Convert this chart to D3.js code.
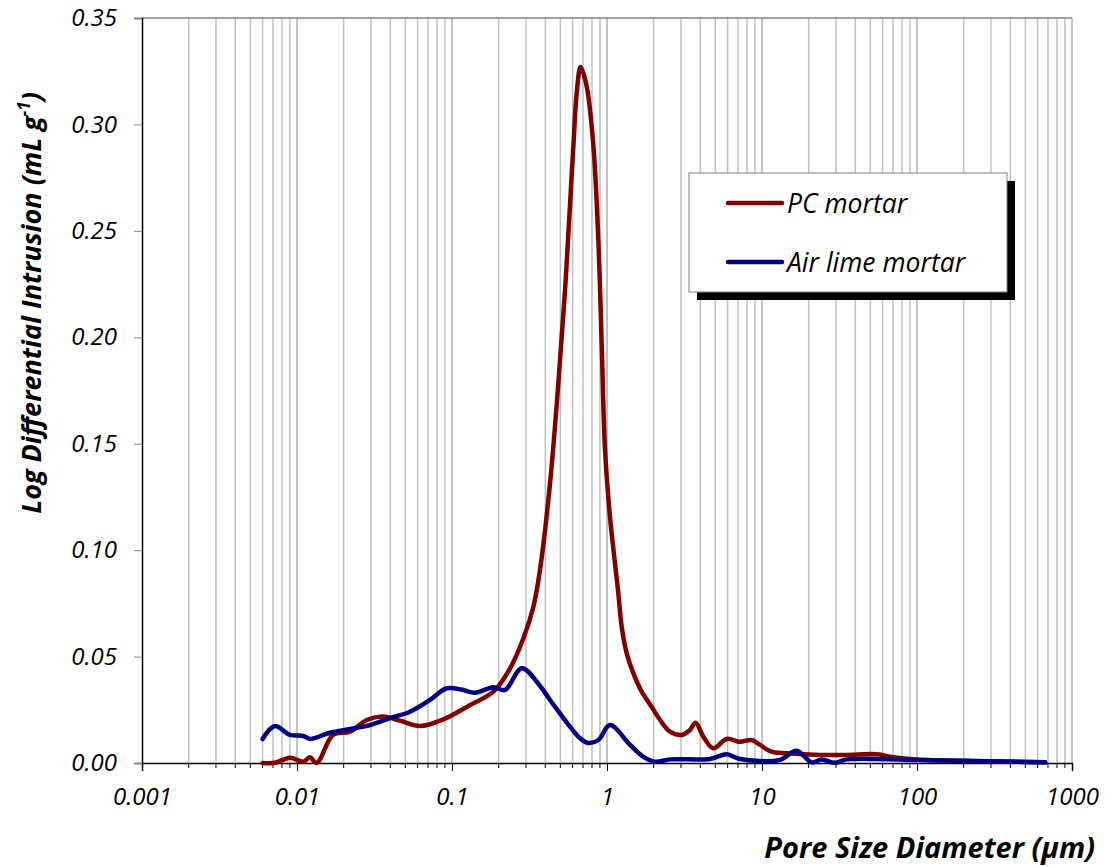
<!DOCTYPE html>
<html>
<head>
<meta charset="utf-8">
<script src="https://cdn.jsdelivr.net/npm/d3@7"></script>
<style>
  body { margin: 0; background: #fff; }
  text { font-family: "Open Sans", "Noto Sans", sans-serif; fill: #000; }
</style>
</head>
<body>
<svg id="chart"></svg>
<script>
// Page size
const width = 1105, height = 866;
const margin = { top: 18, right: 33, bottom: 103, left: 142 };

// Pore size diameter (µm) and log differential intrusion (mL/g)
const pcDiameter = [0.006, 0.0072, 0.009, 0.011, 0.0121, 0.0134, 0.0171, 0.022, 0.0282, 0.036,
  0.0462, 0.0622, 0.0879, 0.1306, 0.185, 0.237, 0.289, 0.335, 0.37, 0.429, 0.485, 0.536,
  0.577, 0.607, 0.638, 0.676, 0.739, 0.817, 0.88, 0.925, 0.97, 1.045, 1.12, 1.183, 1.244,
  1.34, 1.48, 1.675, 1.94, 2.2, 2.55, 3.03, 3.43, 3.73, 4.18, 4.85, 5.92, 7.2, 8.58, 9.7,
  11.5, 14.4, 23.7, 35, 55, 70, 100, 200, 400, 670];
const pcIntrusion = [0.0, 0.0001, 0.0025, 0.0006, 0.0027, 0.0, 0.0132, 0.0147, 0.0202, 0.0218,
  0.0199, 0.0174, 0.0205, 0.0272, 0.0335, 0.0445, 0.0586, 0.0734, 0.091, 0.1314, 0.178, 0.222,
  0.262, 0.29, 0.315, 0.327, 0.318, 0.29, 0.245, 0.196, 0.148, 0.1157, 0.0954, 0.0797, 0.064,
  0.0515, 0.0421, 0.0335, 0.0264, 0.0202, 0.0147, 0.0132, 0.0155, 0.0189, 0.0124, 0.0069, 0.0113, 0.01, 0.0108, 0.0085,
  0.0053, 0.0046, 0.0038, 0.0038, 0.0041, 0.0027, 0.0017, 0.001, 0.0006, 0.0003];

const limeDiameter = [0.006, 0.0072, 0.009, 0.011, 0.0121, 0.0163, 0.022, 0.0296, 0.0398, 0.0536,
  0.072, 0.0925, 0.115, 0.1406, 0.185, 0.22, 0.282, 0.37, 0.429, 0.497, 0.577, 0.67, 0.754, 0.88,
  1.045, 1.41, 1.71, 2.04, 2.55, 4.62, 5.92, 7.2, 13, 16.7, 20.9, 24.3, 29.5, 35.2, 99.5, 670];
const limeIntrusion = [0.0113, 0.0174, 0.0132, 0.0127, 0.0113, 0.0142, 0.016, 0.0178, 0.0211, 0.0241,
  0.0296, 0.0351, 0.0345, 0.033, 0.0356, 0.0343, 0.0445, 0.0362, 0.0296, 0.0233, 0.0171, 0.0116, 0.0094, 0.0108,
  0.0178, 0.0085, 0.003, 0.0006, 0.0017, 0.0019, 0.0041, 0.0019, 0.0014, 0.0058, 0.0003, 0.0017, 0.0001, 0.0017, 0.0014, 0.0003];

const seriesNames = ["PC mortar", "Air lime mortar"];
const seriesColors = ["#800000", "#000080"];

const xTickValues = [0.001, 0.01, 0.1, 1, 10, 100, 1000];
const xTickLabels = ["0.001", "0.01", "0.1", "1", "10", "100", "1000"];
const yTickValues = [0, 0.05, 0.10, 0.15, 0.20, 0.25, 0.30, 0.35];

const svg = d3.select("#chart").attr("width", width).attr("height", height);

const x = d3.scaleLog()
  .domain([0.001, 1000])
  .range([margin.left, width - margin.right]);

const y = d3.scaleLinear()
  .domain([0, 0.35])
  .range([height - margin.bottom, margin.top]);

// minor + major positions for the log grid
const minorValues = [];
for (let e = -3; e < 3; e++) {
  for (let k = 2; k <= 9; k++) minorValues.push(k * Math.pow(10, e));
}

// vertical grid lines
svg.append("g")
  .selectAll("line")
  .data(minorValues)
  .join("line")
  .attr("x1", d => x(d)).attr("x2", d => x(d))
  .attr("y1", y(0.35)).attr("y2", y(0))
  .attr("stroke", "#c0c0c0")
  .attr("stroke-width", 1.5);

svg.append("g")
  .selectAll("line")
  .data(xTickValues.slice(1))
  .join("line")
  .attr("x1", d => x(d)).attr("x2", d => x(d))
  .attr("y1", y(0.35)).attr("y2", y(0))
  .attr("stroke", "#868686")
  .attr("stroke-width", 1);

// top border of the plot area
svg.append("line")
  .attr("x1", x(0.001)).attr("x2", x(1000))
  .attr("y1", y(0.35)).attr("y2", y(0.35))
  .attr("stroke", "#868686")
  .attr("stroke-width", 1.5);

// x axis: major ticks labelled, minor ticks short
const xAxis = svg.append("g")
  .attr("transform", `translate(0,${y(0)})`)
  .call(d3.axisBottom(x)
    .tickValues(xTickValues)
    .tickFormat((d, i) => xTickLabels[i])
    .tickSize(8)
    .tickPadding(17));
xAxis.select(".domain").attr("stroke", "#000").attr("stroke-width", 1.5);
xAxis.selectAll(".tick line").attr("stroke", "#000");
xAxis.selectAll("text")
  .attr("font-size", 24)
  .attr("font-style", "italic")
  .attr("font-family", "'Open Sans', sans-serif");

svg.append("g")
  .attr("transform", `translate(0,${y(0)})`)
  .selectAll("line")
  .data(minorValues)
  .join("line")
  .attr("x1", d => x(d)).attr("x2", d => x(d))
  .attr("y1", 0).attr("y2", 5)
  .attr("stroke", "#000");

// y axis
const yAxis = svg.append("g")
  .attr("transform", `translate(${x(0.001)},0)`)
  .call(d3.axisLeft(y)
    .tickValues(yTickValues)
    .tickFormat(d3.format(".2f"))
    .tickSize(8)
    .tickPadding(17));
yAxis.select(".domain").attr("stroke", "#000").attr("stroke-width", 1.5);
yAxis.selectAll(".tick line").attr("stroke", "#868686");
yAxis.selectAll("text")
  .attr("font-size", 24)
  .attr("font-style", "italic")
  .attr("font-family", "'Open Sans', sans-serif");

// series lines
const line = d3.line()
  .x(d => x(d[0]))
  .y(d => y(d[1]))
  .curve(d3.curveCatmullRom.alpha(0.5));

const series = [
  d3.zip(pcDiameter, pcIntrusion),
  d3.zip(limeDiameter, limeIntrusion)
];

series.forEach((pts, i) => {
  svg.append("path")
    .datum(pts)
    .attr("d", line)
    .attr("fill", "none")
    .attr("stroke", seriesColors[i])
    .attr("stroke-width", 4.5)
    .attr("stroke-linecap", "round")
    .attr("stroke-linejoin", "round");
});

// legend with hard drop shadow
const legend = svg.append("g").attr("transform", "translate(689,173)");
legend.append("rect")
  .attr("x", 8).attr("y", 8)
  .attr("width", 318).attr("height", 119)
  .attr("fill", "#000");
legend.append("rect")
  .attr("width", 318).attr("height", 119)
  .attr("fill", "#fff")
  .attr("stroke", "#808080")
  .attr("stroke-width", 1);

seriesNames.forEach((name, i) => {
  const ly = 30 + i * 59;
  legend.append("line")
    .attr("x1", 39).attr("x2", 93)
    .attr("y1", ly).attr("y2", ly)
    .attr("stroke", seriesColors[i])
    .attr("stroke-width", 4.5)
    .attr("stroke-linecap", "round");
  legend.append("text")
    .attr("x", 98).attr("y", ly + 10)
    .attr("font-size", 26.5)
    .attr("font-style", "italic")
    .text(name);
});

// axis titles
svg.append("text")
  .attr("x", 1095).attr("y", 858)
  .attr("text-anchor", "end")
  .attr("font-size", 29)
  .attr("font-weight", "bold")
  .attr("font-style", "italic")
  .text("Pore Size Diameter (µm)");

const yTitle = svg.append("text")
  .attr("transform", "translate(41,303) rotate(-90)")
  .attr("text-anchor", "middle")
  .attr("font-size", 27)
  .attr("font-weight", "bold")
  .attr("font-style", "italic");
yTitle.append("tspan").text("Log Differential Intrusion (mL g");
yTitle.append("tspan").attr("font-size", 17).attr("dy", -11).text("-1");
yTitle.append("tspan").attr("dy", 11).text(")");
</script>
</body>
</html>
